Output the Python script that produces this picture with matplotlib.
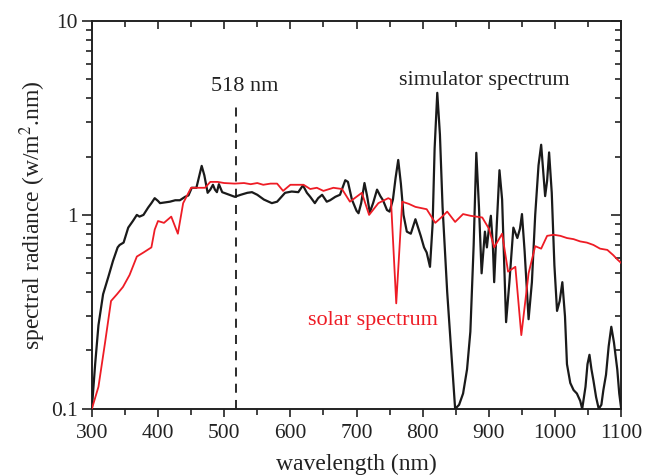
import matplotlib
matplotlib.use("Agg")
import matplotlib.pyplot as plt
from matplotlib.ticker import LogLocator, NullFormatter, FixedLocator, FixedFormatter

plt.rcParams['font.family'] = ['Liberation Serif', 'DejaVu Serif']
plt.rcParams['mathtext.fontset'] = 'stix'

# simulator spectrum (black)
sim_wl = [300, 305, 310, 317, 325, 332, 339, 342, 348, 355, 362, 368, 372, 378, 385, 390, 395, 400,
          403, 410, 418, 426, 433, 441, 446, 451, 458, 466, 470, 475, 479, 483, 486, 489, 492, 497,
          505, 516, 525, 535, 542, 550, 560, 572, 580, 592, 602, 612, 619, 625, 630, 637, 642, 648,
          655, 660, 668, 675, 683, 687, 693, 700, 703, 707, 712, 716, 720, 725, 731, 736, 740, 746,
          750, 755, 759, 763, 767, 771, 776, 782, 789, 793, 797, 802, 806, 811, 815, 818, 822, 826,
          830, 837, 843, 849, 855, 861, 867, 872, 877, 881, 885, 889, 894, 897, 900, 903, 906, 908,
          912, 916, 920, 926, 931, 937, 943, 947, 950, 954, 960, 965, 970, 975, 979, 982, 985, 988,
          991, 995, 999, 1003, 1007, 1011, 1015, 1018, 1023, 1028, 1033, 1038, 1041, 1046, 1049,
          1052, 1055, 1058, 1062, 1066, 1070, 1073, 1077, 1081, 1085, 1089, 1094, 1097, 1100]
sim_val = [0.10, 0.17, 0.27, 0.39, 0.48, 0.58, 0.68, 0.70, 0.72, 0.86, 0.93, 1.00, 0.98, 1.00, 1.09,
           1.15, 1.22, 1.18, 1.15, 1.16, 1.17, 1.19, 1.19, 1.24, 1.26, 1.38, 1.38, 1.79, 1.60, 1.30,
           1.35, 1.43, 1.35, 1.31, 1.44, 1.31, 1.28, 1.24, 1.27, 1.30, 1.31, 1.27, 1.20, 1.15, 1.17,
           1.30, 1.32, 1.31, 1.42, 1.30, 1.24, 1.15, 1.22, 1.27, 1.17, 1.19, 1.24, 1.27, 1.51, 1.48,
           1.20, 1.05, 1.02, 1.15, 1.46, 1.25, 1.03, 1.15, 1.35, 1.25, 1.19, 1.06, 1.04, 1.20, 1.55,
           1.92, 1.45, 1.00, 0.82, 0.80, 0.95, 0.86, 0.78, 0.68, 0.64, 0.54, 0.90, 2.20, 4.26, 2.60,
           1.10, 0.40, 0.20, 0.10, 0.105, 0.12, 0.16, 0.25, 0.70, 2.09, 1.10, 0.50, 0.82, 0.68, 0.85,
           0.99, 0.70, 0.45, 0.90, 1.70, 1.20, 0.28, 0.45, 0.86, 0.76, 0.85, 1.01, 0.65, 0.29, 0.45,
           1.00, 1.80, 2.30, 1.70, 1.25, 1.50, 2.10, 1.30, 0.55, 0.32, 0.36, 0.45, 0.30, 0.17, 0.136,
           0.125, 0.12, 0.11, 0.10, 0.13, 0.17, 0.19, 0.16, 0.14, 0.115, 0.10, 0.105, 0.125, 0.15,
           0.21, 0.265, 0.22, 0.16, 0.12, 0.10]

# solar spectrum (red)
sol_wl = [300, 310, 320, 329, 338, 347, 357, 368, 378, 390, 395, 400, 409, 420, 430, 438, 450, 460,
          471, 479, 490, 500, 516, 530, 540, 550, 559, 570, 580, 589, 600, 610, 620, 630, 640, 650,
          665, 678, 690, 708, 719, 733, 748, 752, 760, 769, 779, 789, 806, 819, 828, 837, 849, 861,
          872, 890, 900, 908, 920, 929, 940, 949, 960, 970, 979, 988, 998, 1008, 1018, 1028, 1038,
          1048, 1058, 1068, 1079, 1088, 1094, 1100]
sol_val = [0.10, 0.13, 0.22, 0.36, 0.39, 0.425, 0.49, 0.61, 0.64, 0.68, 0.84, 0.93, 0.91, 0.98,
           0.80, 1.15, 1.38, 1.38, 1.38, 1.48, 1.48, 1.46, 1.45, 1.46, 1.44, 1.46, 1.43, 1.45, 1.45,
           1.33, 1.43, 1.43, 1.43, 1.36, 1.38, 1.33, 1.38, 1.36, 1.17, 1.30, 1.00, 1.15, 1.22, 1.20,
           0.35, 1.17, 1.14, 1.10, 1.07, 0.91, 0.97, 1.04, 0.92, 1.01, 0.99, 0.97, 0.85, 0.68, 0.80,
           0.51, 0.54, 0.24, 0.50, 0.69, 0.67, 0.78, 0.79, 0.78, 0.76, 0.75, 0.73, 0.72, 0.70, 0.67,
           0.66, 0.62, 0.59, 0.565]

x_ticks = [300, 400, 500, 600, 700, 800, 900, 1000, 1100]
y_ticks = [0.1, 1, 10]
y_ticklabels = ['0.1', '1', '10']
marker_wl = 518

fig = plt.figure(figsize=(6.56, 4.76), dpi=100)
ax = fig.add_axes([0.140, 0.141, 0.807, 0.815])

ax.plot(sim_wl, sim_val, color='#1a1a1a', lw=1.6, solid_joinstyle='round', zorder=3)
ax.plot(sol_wl, sol_val, color='#ee1c25', lw=1.3, zorder=4)
ax.plot([marker_wl, marker_wl], [0.1, 3.8], color='#1a1a1a', lw=1.3, ls=(0, (5, 4)), zorder=2)

ax.set_yscale('log')
ax.set_xlim(300, 1100)
ax.set_ylim(0.1, 10)

ax.xaxis.set_major_locator(FixedLocator(x_ticks))
ax.xaxis.set_minor_locator(FixedLocator([350 + 100 * i for i in range(8)]))
ax.yaxis.set_major_locator(FixedLocator(y_ticks))
ax.yaxis.set_major_formatter(FixedFormatter(y_ticklabels))
ax.yaxis.set_minor_locator(LogLocator(base=10, subs=range(2, 10)))
ax.yaxis.set_minor_formatter(NullFormatter())

ax.tick_params(axis='both', which='both', labelsize=15.5, colors='#222222')
ax.tick_params(axis='x', which='major', direction='out', length=6, width=1.2, top=True, pad=5)
ax.tick_params(axis='x', which='minor', direction='out', length=4, width=1.2, top=True)
ax.tick_params(axis='y', which='major', direction='out', length=7, width=1.2, right=True, pad=3)
ax.tick_params(axis='y', which='minor', direction='out', length=4, width=1.2, right=True)
# top and right ticks point inward
for t in ax.xaxis.get_major_ticks() + ax.xaxis.get_minor_ticks():
    t.tick2line.set_marker(3)  # TICKDOWN
for t in ax.yaxis.get_major_ticks() + ax.yaxis.get_minor_ticks():
    t.tick2line.set_marker(0)  # TICKLEFT

for s in ax.spines.values():
    s.set_linewidth(1.4)
    s.set_color('#222222')

ax.set_xlabel('wavelength (nm)', fontsize=17, color='#222222', labelpad=8)
ax.set_ylabel('spectral radiance (w/m$^2$.nm)', fontsize=17, color='#222222', labelpad=2)

ax.text(531, 4.36, '518 nm', fontsize=16, ha='center', va='baseline', color='#222222')
ax.text(893, 4.68, 'simulator spectrum', fontsize=16, ha='center', va='baseline', color='#222222')
ax.text(725, 0.271, 'solar spectrum', fontsize=16, ha='center', va='baseline', color='#ee1c25')

fig.savefig('out.png', dpi=100)
